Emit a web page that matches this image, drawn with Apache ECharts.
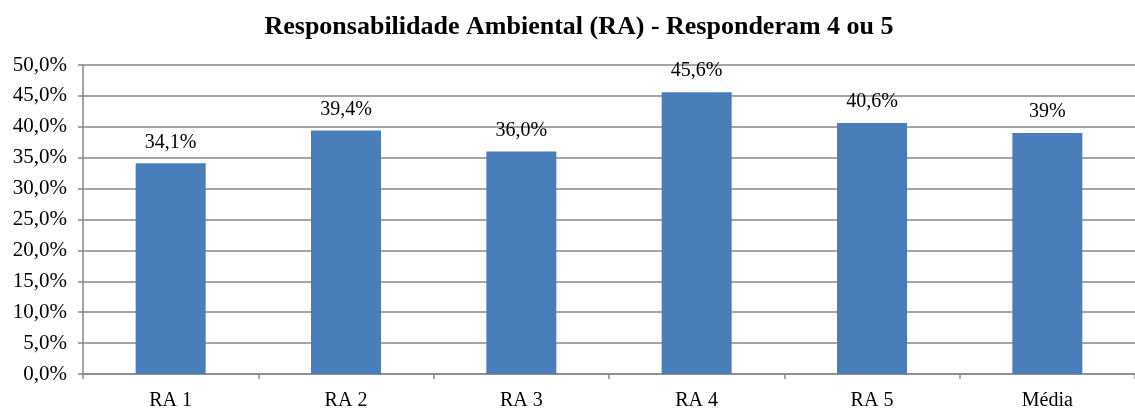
<!DOCTYPE html>
<html>
<head>
<meta charset="utf-8">
<script src="https://cdn.jsdelivr.net/npm/echarts@6/dist/echarts.min.js"></script>
<style>
  html, body { margin: 0; padding: 0; background: #fff; }
  #chart { width: 1135px; height: 411px; }
</style>
</head>
<body>
<div id="chart"></div>
<script>
const categories = ['RA 1', 'RA 2', 'RA 3', 'RA 4', 'RA 5', 'Média'];
const values = [34.1, 39.4, 36.0, 45.6, 40.6, 39.0];
const valueLabels = ['34,1%', '39,4%', '36,0%', '45,6%', '40,6%', '39%'];

const serif = '"Liberation Serif", "Times New Roman", serif';
const gridColor = '#888888';

const chart = echarts.init(document.getElementById('chart'));
chart.setOption({
  animation: false,
  title: {
    text: 'Responsabilidade Ambiental (RA) - Responderam 4 ou 5',
    left: 574,
    textAlign: 'center',
    top: 9,
    textStyle: { fontFamily: serif, fontSize: 26, fontWeight: 'bold', color: '#000' }
  },
  grid: { left: 83, right: -6, top: 65, bottom: 36 },
  xAxis: {
    type: 'category',
    data: categories,
    axisLine: { lineStyle: { color: gridColor, width: 1.5 } },
    axisTick: { show: true, length: 5, lineStyle: { color: gridColor, width: 1.5 } },
    axisLabel: { fontFamily: serif, fontSize: 20, color: '#000', margin: 17 }
  },
  yAxis: {
    type: 'value',
    min: 0,
    max: 50,
    interval: 5,
    axisLine: { show: true, lineStyle: { color: gridColor, width: 1.5 } },
    axisTick: { show: true, length: 5, lineStyle: { color: gridColor, width: 1.5 } },
    splitLine: { lineStyle: { color: gridColor, width: 1.5 } },
    axisLabel: {
      fontFamily: serif, fontSize: 21, color: '#000', margin: 16,
      formatter: v => v.toFixed(1).replace('.', ',') + '%'
    }
  },
  series: [{
    type: 'bar',
    data: values,
    barWidth: 70,
    itemStyle: { color: '#4a7ebb' },
    label: {
      show: true,
      position: 'top',
      distance: 11,
      fontFamily: serif,
      fontSize: 20,
      color: '#000',
      formatter: p => valueLabels[p.dataIndex]
    }
  }]
});
</script>
</body>
</html>
